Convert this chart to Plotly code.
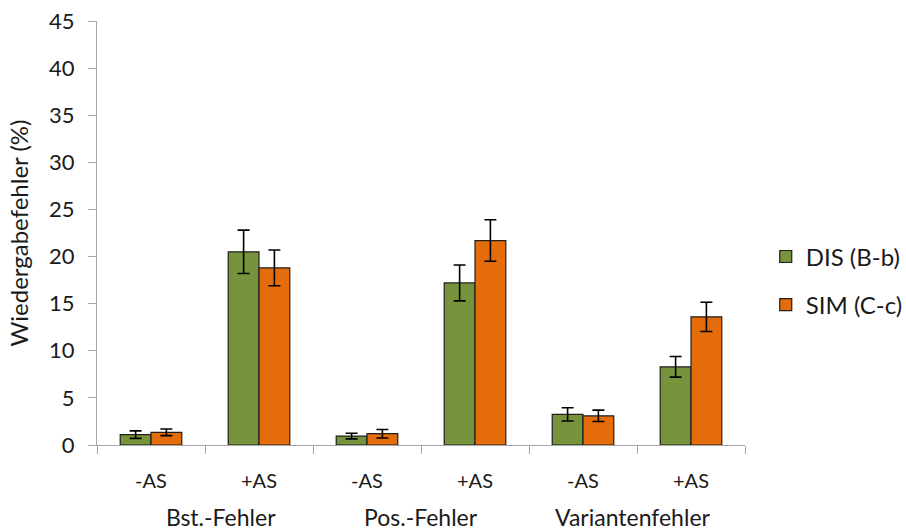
import plotly.graph_objects as go

groups = ["Bst.-Fehler", "Pos.-Fehler", "Variantenfehler"]
subcats = ["-AS", "+AS", "-AS", "+AS", "-AS", "+AS"]

dis_values = [1.1, 20.5, 0.95, 17.2, 3.25, 8.3]
dis_errors = [0.4, 2.3, 0.3, 1.9, 0.7, 1.1]
sim_values = [1.35, 18.8, 1.2, 21.7, 3.1, 13.6]
sim_errors = [0.35, 1.9, 0.45, 2.2, 0.6, 1.55]

series_names = ["DIS (B-b)", "SIM (C-c)"]
colors = ["#77933C", "#E46C0A"]

FONT = "Lato"
TXT = "#1a1a1a"
AX = "#A6A6A6"
GROUP_LABEL_SHIFT = [16, 0, -4]

xs = list(range(len(subcats)))

fig = go.Figure()
for i, (name, vals, errs) in enumerate(zip(series_names, [dis_values, sim_values], [dis_errors, sim_errors])):
    fig.add_trace(go.Bar(
        x=xs, y=vals, name=name, legendgroup=name,
        marker=dict(color=colors[i], line=dict(color="#1f1f1f", width=1.2)),
        error_y=dict(type="data", array=errs, visible=True, color="#000000", thickness=1.6, width=6),
    ))

for gi, g in enumerate(groups):
    fig.add_annotation(x=gi * 2 + 0.5, y=0, xref="x", yref="paper", yshift=-72,
                       xshift=GROUP_LABEL_SHIFT[gi],
                       text=g, showarrow=False, yanchor="middle",
                       font=dict(family=FONT, size=23, color=TXT))

fig.update_layout(
    width=906, height=532,
    margin=dict(l=97, r=161, t=21, b=87, autoexpand=False),
    paper_bgcolor="white", plot_bgcolor="white",
    barmode="group", bargap=0.43, bargroupgap=0,
    font=dict(family=FONT, size=21, color=TXT),
    showlegend=True,
    legend=dict(x=1.032, y=0.387, xanchor="left", yanchor="middle",
                font=dict(family=FONT, size=24, color=TXT),
                tracegroupgap=14, itemwidth=30),
    xaxis=dict(range=[-0.5, 5.5], tickvals=xs, ticktext=subcats, ticks="", automargin=False,
               showline=True, linecolor=AX, linewidth=1.3, showgrid=False, zeroline=False,
               tickfont=dict(family=FONT, size=20, color=TXT), ticklabelstandoff=18,
               minor=dict(tick0=-0.5, dtick=1, ticks="outside", ticklen=8, tickcolor=AX, tickwidth=1.3, showgrid=False)),
    yaxis=dict(range=[0, 45], dtick=5, ticks="outside", ticklen=8, tickcolor=AX, tickwidth=1.3, automargin=False,
               showline=True, linecolor=AX, linewidth=1.3, showgrid=False, zeroline=False,
               tickfont=dict(family=FONT, size=22, color=TXT), ticklabelstandoff=9,
               title=dict(text="Wiedergabefehler (%)", font=dict(family=FONT, size=24, color=TXT), standoff=13)),
)

fig.write_html("out.html", config={"displayModeBar": False},
               post_script="document.body.style.margin='0';document.body.style.padding='0';")
